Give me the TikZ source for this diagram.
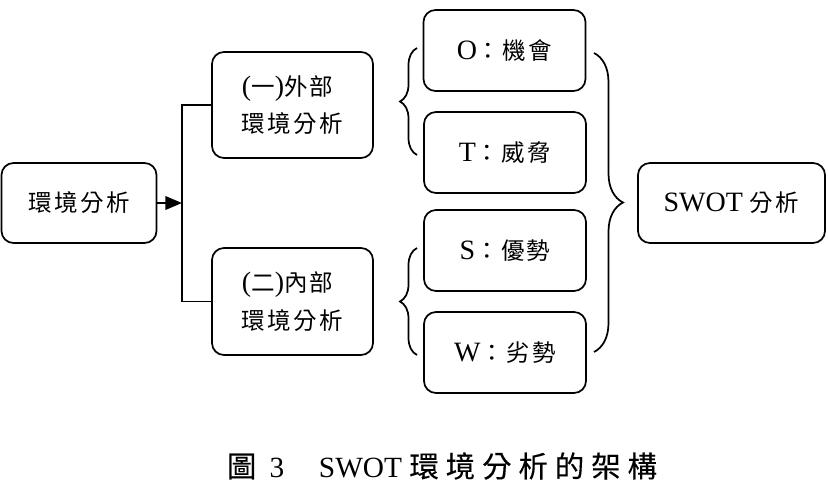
\documentclass[tikz,border=0pt]{standalone}
\usepackage{fontspec}
\setmainfont{Liberation Serif}
\newfontfamily\cjk[Scale=0.84,LetterSpace=10]{Noto Sans CJK TC}
\newfontfamily\cjkcap[Scale=1.0,LetterSpace=24,FakeBold=0.3]{Noto Sans CJK TC}
\usepackage{tikz}
\usetikzlibrary{arrows.meta,decorations.pathreplacing}

\begin{document}
\begin{tikzpicture}[x=0.75pt,y=0.75pt,>={Triangle[length=4.4mm,width=3.6mm]},line width=1.3pt,
  box/.style={draw,rounded corners=9pt,inner sep=0pt,align=center,font=\fontsize{21pt}{28pt}\selectfont},
  brace/.style={decorate,decoration={brace,amplitude=#1}}]
\useasboundingbox (0,0) rectangle (828,487);
% left column
\node[box,minimum width=155*0.75pt,minimum height=80*0.75pt] (env) at (79,284) {{\cjk 環境分析}};
% second column
\node[box,align=left,minimum width=161*0.75pt,minimum height=106*0.75pt] (ext) at (292.5,382) {({\cjk 一})\hspace{0pt}{\cjk 外部}\\{\cjk 環境分析}};
\node[box,align=left,minimum width=161*0.75pt,minimum height=107*0.75pt] (int) at (292.5,185.5) {({\cjk 二})\hspace{0pt}{\cjk 內部}\\{\cjk 環境分析}};
% SWOT items
\node[box,minimum width=162*0.75pt,minimum height=81*0.75pt] (opp) at (504.5,436.5) {O{\cjk ：機會}};
\node[box,minimum width=162*0.75pt,minimum height=81*0.75pt] (thr) at (505,334.5) {T{\cjk ：威脅}};
\node[box,minimum width=162*0.75pt,minimum height=81*0.75pt] (str) at (505,236.5) {S{\cjk ：優勢}};
\node[box,minimum width=162*0.75pt,minimum height=81*0.75pt] (wea) at (505,134.5) {W{\cjk ：劣勢}};
\node[box,minimum width=187*0.75pt,minimum height=80*0.75pt] (swot) at (731.5,284) {SWOT {\cjk 分析}};
% connectors
\coordinate (fork) at (182,284);
\draw[->] (env.east) -- (fork);
\draw (ext.west) -| (fork) |- (int.west);
% braces
\coordinate (ot1) at (417,332);
\coordinate (ot2) at (417,439);
\coordinate (sw1) at (417,132);
\coordinate (sw2) at (417,239);
\coordinate (all1) at (594,434);
\coordinate (all2) at (594,135);
\draw[brace=17*0.75pt] (ot1) -- (ot2);
\draw[brace=17*0.75pt] (sw1) -- (sw2);
\draw[brace=29*0.75pt] (all1) -- (all2);
% caption
\node[font=\fontsize{22pt}{26pt}\selectfont] (cap) at (442,21) {{\cjkcap 圖}\hspace{10pt}3\hspace{26pt}SWOT {\cjkcap 環境分析的架構}};
\end{tikzpicture}
\end{document}
